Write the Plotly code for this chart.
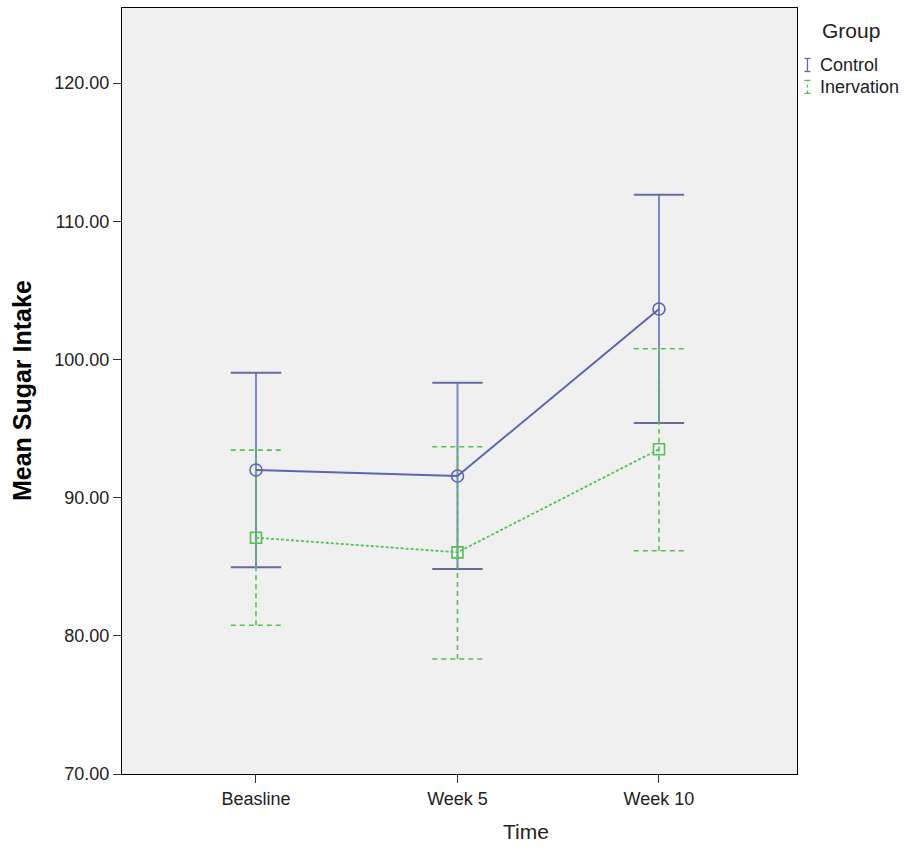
import plotly.graph_objects as go

# Time points and group summaries (mean with 95% CI bounds)
time_labels = ["Beasline", "Week 5", "Week 10"]
control_mean = [92.0, 91.56, 103.65]
control_upper = [99.04, 98.31, 111.92]
control_lower = [84.96, 84.83, 95.4]
inerv_mean = [87.1, 86.04, 93.5]
inerv_upper = [93.44, 93.68, 100.77]
inerv_lower = [80.76, 78.32, 86.16]
y_ticks = [70, 80, 90, 100, 110, 120]

FONT = "Arial, Liberation Sans, sans-serif"
BLUE_LINE = "#5a66b4"
BLUE_STEM = "#7d88c8"
BLUE_CAP = "#666c9c"
BLUE_MARK = "#4a56a0"
GREEN = "#55c055"
CAP_HALF = 0.125  # half cap width in category units

xs = list(range(len(time_labels)))


def bar_paths(lower, upper):
    sx, sy, cx, cy = [], [], [], []
    for x, lo, hi in zip(xs, lower, upper):
        sx += [x, x, None]
        sy += [lo, hi, None]
        cx += [x - CAP_HALF, x + CAP_HALF, None, x - CAP_HALF, x + CAP_HALF, None]
        cy += [lo, lo, None, hi, hi, None]
    return sx, sy, cx, cy


fig = go.Figure()

# Control: error bars
sx, sy, cx, cy = bar_paths(control_lower, control_upper)
fig.add_trace(go.Scatter(x=sx, y=sy, mode="lines",
                         line=dict(color=BLUE_STEM, width=2), hoverinfo="skip"))
fig.add_trace(go.Scatter(x=cx, y=cy, mode="lines",
                         line=dict(color=BLUE_CAP, width=2), hoverinfo="skip"))

# Inervation: dashed error bars
sx, sy, cx, cy = bar_paths(inerv_lower, inerv_upper)
fig.add_trace(go.Scatter(x=sx, y=sy, mode="lines",
                         line=dict(color=GREEN, width=1.6, dash="5px,4px"), hoverinfo="skip"))
fig.add_trace(go.Scatter(x=cx, y=cy, mode="lines",
                         line=dict(color=GREEN, width=1.6, dash="5px,4px"), hoverinfo="skip"))

# Mean lines
fig.add_trace(go.Scatter(x=xs, y=control_mean, mode="lines+markers", name="Control",
                         line=dict(color=BLUE_LINE, width=2),
                         marker=dict(symbol="circle-open", size=12,
                                     line=dict(color=BLUE_MARK, width=1.6))))
fig.add_trace(go.Scatter(x=xs, y=inerv_mean, mode="lines+markers", name="Inervation",
                         line=dict(color=GREEN, width=1.8, dash="3px,2px"),
                         marker=dict(symbol="square-open", size=11,
                                     line=dict(color=GREEN, width=1.6))))

fig.update_layout(
    width=905, height=851,
    margin=dict(l=122, r=108, t=8, b=77),
    paper_bgcolor="white", plot_bgcolor="#f0f0f0",
    showlegend=False,
    font=dict(family=FONT, size=18, color="#222"),
)
fig.update_xaxes(
    range=[-0.665, 2.685], tickvals=xs, ticktext=time_labels,
    showgrid=False, zeroline=False,
    showline=True, linecolor="black", linewidth=1.2, mirror=True,
    ticks="outside", ticklen=8, tickcolor="#333", tickwidth=1.2,
    tickfont=dict(size=18, color="#222"),
)
fig.update_yaxes(
    range=[70, 125.43], tickvals=y_ticks, tickformat=".2f",
    showgrid=False, zeroline=False,
    showline=True, linecolor="black", linewidth=1.2, mirror=True,
    ticks="outside", ticklen=8, tickcolor="#333", tickwidth=1.2,
    tickfont=dict(size=18, color="#222"),
)

# Axis titles
fig.add_annotation(text="Mean Sugar Intake", xref="paper", yref="paper",
                   x=-0.148, y=0.5, xanchor="center", yanchor="middle",
                   textangle=-90, showarrow=False,
                   font=dict(family=FONT, size=25, color="black", weight="bold"))
fig.add_annotation(text="Time", xref="paper", yref="paper",
                   x=0.598, y=-0.0757, xanchor="center", yanchor="middle",
                   showarrow=False, font=dict(family=FONT, size=21, color="#222"))

# Legend built from shapes and text
fig.add_annotation(text="Group", xref="paper", yref="paper",
                   x=1.08, y=0.971, xanchor="center", yanchor="middle",
                   showarrow=False, font=dict(family=FONT, size=21, color="#222"))
legend_rows = [("Control", 0.9256, BLUE_CAP, "solid"), ("Inervation", 0.897, GREEN, "dot")]
for label, yy, col, dash in legend_rows:
    fig.add_annotation(text=label, xref="paper", yref="paper",
                       x=1.031, y=yy, xanchor="left", yanchor="middle",
                       showarrow=False, font=dict(family=FONT, size=18, color="#222"))
    xc = 1.0155
    h = 0.0085
    w = 0.0045
    fig.add_shape(type="line", xref="paper", yref="paper",
                  x0=xc, x1=xc, y0=yy - h, y1=yy + h,
                  line=dict(color=col, width=1.3, dash=dash))
    for yv in (yy - h, yy + h):
        fig.add_shape(type="line", xref="paper", yref="paper",
                      x0=xc - w, x1=xc + w, y0=yv, y1=yv,
                      line=dict(color=col, width=1.3))

fig.write_html("out.html")
